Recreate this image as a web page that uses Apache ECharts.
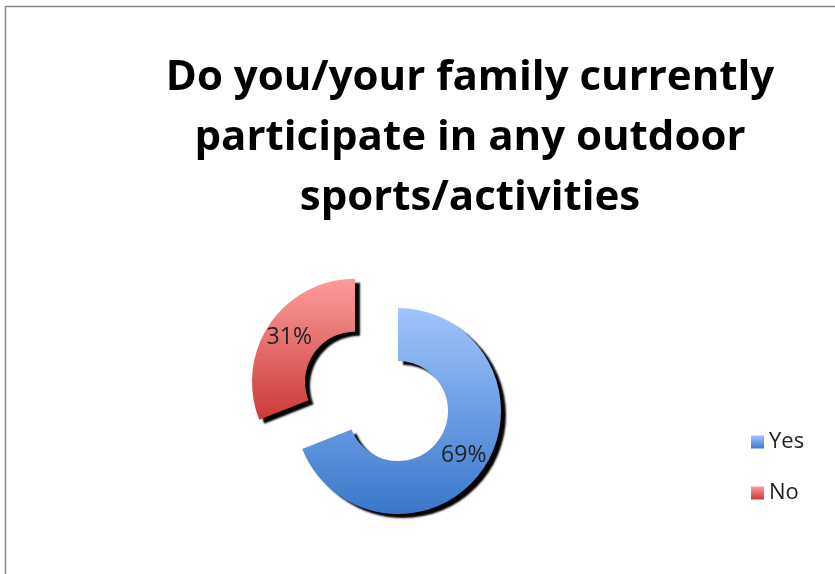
<!DOCTYPE html>
<html>
<head>
<meta charset="utf-8">
<script src="https://cdn.jsdelivr.net/npm/echarts@6/dist/echarts.min.js"></script>
<style>html,body{margin:0;padding:0;background:#fff;}#c{width:835px;height:574px;}</style>
</head>
<body>
<div id="c"></div>
<script>
const titleText = "Do you/your family currently\nparticipate in any outdoor\nsports/activities";
const categories = ["Yes", "No"];
const values = [69, 31];

const fills = {
  Yes: new echarts.graphic.LinearGradient(0, 0, 0, 1, [
    {offset: 0, color: '#9fc5fb'}, {offset: 1, color: '#3a77cb'}]),
  No: new echarts.graphic.LinearGradient(0, 0, 0, 1, [
    {offset: 0, color: '#fb9d9a'}, {offset: 1, color: '#cc3a37'}])
};

const chart = echarts.init(document.getElementById('c'));
chart.setOption({
  animation: false,
  graphic: [{
    type: 'rect', shape: {x: 5.5, y: 6.5, width: 900, height: 700},
    style: {fill: 'none', stroke: '#8c8c8c', lineWidth: 1.5}, silent: true, z: -1
  }],
  title: {
    text: titleText, left: 465, top: 43, textAlign: 'center',
    textStyle: {fontFamily: 'Open Sans', fontWeight: 'bold', fontSize: 42, lineHeight: 60, color: '#000'}
  },
  legend: {
    orient: 'vertical', left: 746, top: 426, itemGap: 29,
    itemWidth: 13, itemHeight: 13, icon: 'rect',
    textStyle: {fontFamily: 'Open Sans', fontSize: 22, lineHeight: 21, color: '#222', padding: [0, 0, 0, 0]},
    data: categories
  },
  series: [{
    type: 'pie', center: [398, 411], radius: [50, 103],
    startAngle: 90, clockwise: true,
    selectedMode: 'multiple', selectedOffset: 52,
    avoidLabelOverlap: false,
    itemStyle: {shadowColor: 'rgba(0,0,0,1)', shadowBlur: 2, shadowOffsetX: 5, shadowOffsetY: 4},
    label: {position: 'inside', formatter: '{d}%', fontFamily: 'Open Sans', fontSize: 23, color: '#222'},
    labelLine: {show: false},
    emphasis: {disabled: true},
    data: categories.map((c, i) => ({
      name: c, value: values[i], selected: c === 'No',
      itemStyle: {color: fills[c]}
    }))
  }]
});
</script>
</body>
</html>
